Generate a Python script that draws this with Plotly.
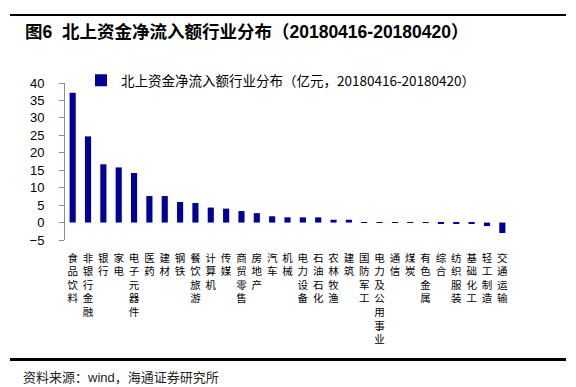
import plotly.graph_objects as go

categories = ["食品饮料", "非银行金融", "银行", "家电", "电子元器件", "医药", "建材", "钢铁",
              "餐饮旅游", "计算机", "传媒", "商贸零售", "房地产", "汽车", "机械", "电力设备",
              "石油石化", "农林牧渔", "建筑", "国防军工", "电力及公用事业", "通信", "煤炭",
              "有色金属", "综合", "纺织服装", "基础化工", "轻工制造", "交通运输"]
values = [37.2, 24.7, 16.7, 15.8, 14.2, 7.6, 7.6, 5.9, 5.6, 4.3, 4.0, 3.3, 2.7, 1.8, 1.5,
          1.5, 1.5, 0.8, 0.8, 0.1, 0.1, 0.1, 0.1, 0.1, -0.4, -0.3, -0.3, -1.0, -3.0]
y_ticks = [-5, 0, 5, 10, 15, 20, 25, 30, 35, 40]
series_name = "北上资金净流入额行业分布（亿元，20180416-20180420）"
title_text = "图6\u00a0\u00a0北上资金净流入额行业分布（20180416-20180420）"
source_text = "资料来源：wind，海通证券研究所"

CJK = "Noto Sans CJK SC"
LAT = "Liberation Sans, Arial, Noto Sans CJK SC"
W, H = 576, 387
L, R, T, B = 65, 66, 83, 147
ymin, ymax = -5, 40
PW, PH = W - L - R, H - T - B


def px_x(px):
    return (px - L) / PW


def px_y(py):
    return (H - B - py) / PH


vert_labels = ["<br>".join(list(c)) for c in categories]

fig = go.Figure()
fig.add_trace(go.Bar(
    x=categories, y=values, name=series_name,
    marker=dict(color="#000096", line=dict(width=0)),
    showlegend=True,
))

n = len(categories)
fig.update_layout(
    width=W, height=H,
    margin=dict(l=L, r=R, t=T, b=B),
    paper_bgcolor="white", plot_bgcolor="white",
    bargap=0.6,
    font=dict(family=CJK, size=12, color="#000000"),
    xaxis=dict(
        type="category", categoryorder="array", categoryarray=categories,
        tickmode="array", tickvals=categories, ticktext=vert_labels,
        tickangle=0, showline=False, ticks="", showgrid=False, zeroline=False,
        tickfont=dict(family=CJK, size=10.5, color="#000000"),
        ticklabelstandoff=10, automargin=False,
        range=[-0.5, n - 0.5],
    ),
    xaxis2=dict(
        overlaying="x", anchor="free", position=(0 - ymin) / (ymax - ymin),
        range=[-0.5, n - 0.5], showline=True, linecolor="#8c8c8c", linewidth=1,
        ticks="outside", ticklen=5, tickcolor="#8c8c8c",
        tickmode="array", tickvals=[i - 0.5 for i in range(n + 1)],
        showticklabels=False, showgrid=False, zeroline=False,
    ),
    yaxis=dict(
        range=[ymin, ymax], tickmode="array", tickvals=y_ticks,
        showline=True, linecolor="#8c8c8c", linewidth=1,
        ticks="outside", ticklen=5, tickcolor="#8c8c8c",
        showgrid=False, zeroline=False, automargin=False,
        ticklabelstandoff=12,
        tickfont=dict(family="Liberation Sans, Arial", size=13, color="#000000"),
    ),
    legend=dict(
        x=px_x(81), y=px_y(65),
        xanchor="left", yanchor="top",
        bgcolor="rgba(0,0,0,0)", font=dict(family=CJK, size=13.5, color="#000000"),
        itemwidth=30,
    ),
    shapes=[
        dict(type="line", xref="paper", yref="paper",
             x0=px_x(10), x1=px_x(566), y0=px_y(15), y1=px_y(15),
             line=dict(color="#000000", width=2)),
        dict(type="line", xref="paper", yref="paper",
             x0=px_x(10), x1=px_x(566), y0=px_y(359.5), y1=px_y(359.5),
             line=dict(color="#000000", width=3)),
    ],
    annotations=[
        dict(text="<b>" + title_text + "</b>", xref="paper", yref="paper",
             x=px_x(23), y=px_y(32),
             xanchor="left", yanchor="middle", showarrow=False,
             font=dict(family=LAT, size=17.5, color="#000000")),
        dict(text=source_text, xref="paper", yref="paper",
             x=px_x(21), y=px_y(377),
             xanchor="left", yanchor="middle", showarrow=False,
             font=dict(family=LAT, size=13, color="#222222")),
    ],
)

fig.write_html("out.html",
               config={"displayModeBar": False},
               post_script="document.body.style.margin='0';document.body.style.overflow='hidden';")
